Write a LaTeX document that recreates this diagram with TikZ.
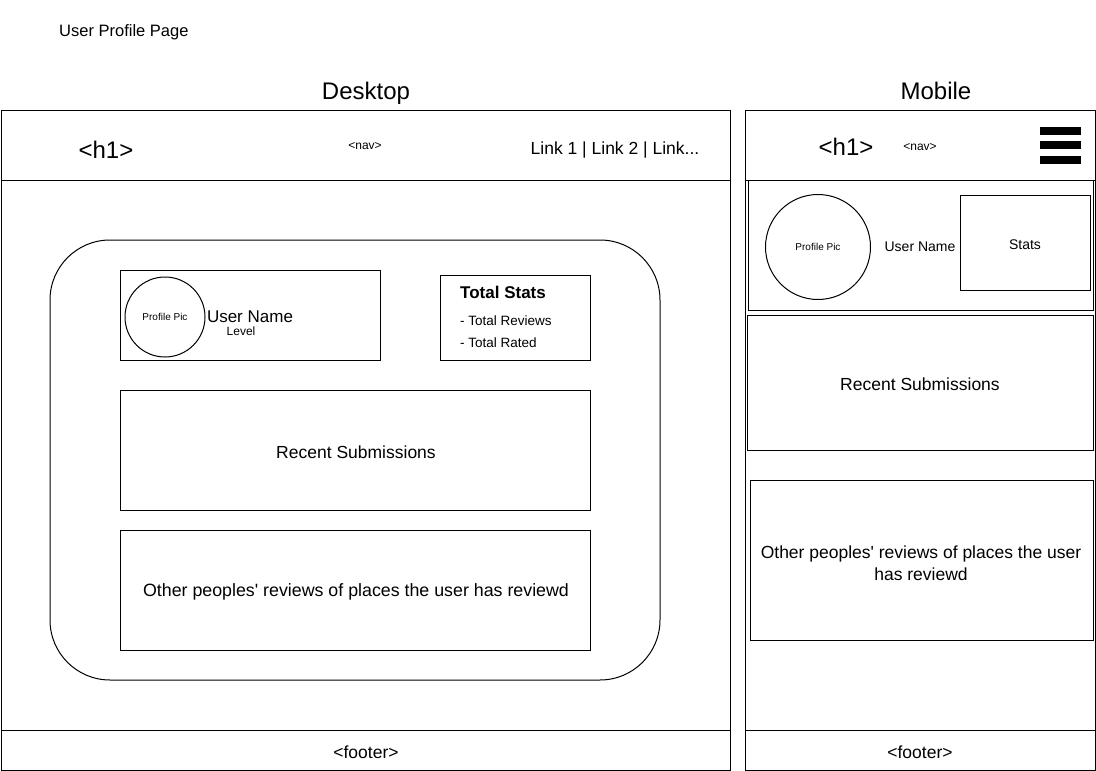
\documentclass[tikz,border=0pt]{standalone}
\usepackage{fontspec}
\setmainfont{Liberation Sans}
\usetikzlibrary{positioning}

\begin{document}
\begin{tikzpicture}[
  x=1pt, y=-1pt,
  frame/.style={draw, line width=1pt},
  box/.style={draw, line width=1pt, inner sep=0pt, outer sep=0pt, align=center},
  pic/.style={draw, circle, line width=1pt, inner sep=0pt},
  huge/.style={font=\fontsize{24}{28}\selectfont},
  big/.style={font=\fontsize{17.5}{22}\selectfont},
  mid/.style={font=\fontsize{14}{17}\selectfont},
  small/.style={font=\fontsize{12}{14}\selectfont},
  tiny/.style={font=\fontsize{10}{12}\selectfont}
]

\useasboundingbox (0,0) rectangle (1096,771);

% --- Titles ---
\node[anchor=west, inner sep=0pt, font=\fontsize{16.5}{19}\selectfont] (title) at (59,32) {User Profile Page};
\node[huge] (desk) at (366,93) {Desktop};
\node[huge] (mob) at (936,91) {Mobile};

% --- Desktop frame: header, body, footer ---
\draw[frame] (1,110) rectangle (730,770);
\draw[frame] (1,180) -- (730,180);
\draw[frame] (1,730) -- (730,730);

\node[huge] (dh1) at (106,150) {<h1>};
\node[small] (dnav) at (365,146) {<nav>};
\node[big] (dlinks) at (615,150) {Link 1 | Link 2 | Link...};
\node[big] (dfoot) at (366,752) {<footer>};

% Content card
\draw[frame, rounded corners=60] (50,240) rectangle (660,680);

% Profile row
\node[box, minimum width=260, minimum height=90] (dprofile) at (250,315) {};
\node[pic, minimum size=80, tiny] (dpic) at (165,317) {Profile Pic};
\node[font=\fontsize{17}{20}\selectfont] (duser) at (250,317) {User Name};
\node[small] (dlevel) at (241,331) {Level};

% Stats
\node[box, minimum width=150, minimum height=85] (dstats) at (515,317.5) {};
\node[anchor=west, inner sep=0pt, font=\fontsize{17}{20}\selectfont\bfseries] (dstatt) at (460,292) {Total Stats};
\node[anchor=west, inner sep=0pt, font=\fontsize{13.5}{16}\selectfont] (drev) at (460,321) {- Total Reviews};
\node[anchor=west, inner sep=0pt, font=\fontsize{13.5}{16}\selectfont] (drat) at (460,343) {- Total Rated};

% Lists
\node[box, minimum width=470, minimum height=120] (drecent) at (355,450) {};
\node[big] (drecentt) at (356,452) {Recent Submissions};
\node[box, minimum width=470, minimum height=120] (dother) at (355,590) {};
\node[font=\fontsize{17.8}{22}\selectfont] (dothert) at (356,592)
  {Other peoples\textquotesingle\ reviews of places the user has reviewd};

% --- Mobile frame: header, body, footer ---
\draw[frame] (745,110) rectangle (1095,770);
\draw[frame] (745,180) -- (1095,180);
\draw[frame] (745,730) -- (1095,730);

\node[huge] (mh1) at (846,147) {<h1>};
\node[small] (mnav) at (920,147) {<nav>};
\foreach \y in {127,141,156}
  \fill (1040,\y) rectangle ++(41,8);
\node[big] (mfoot) at (920,752) {<footer>};

% Profile block
\node[box, minimum width=345, minimum height=130] (mprofile) at (920.5,245) {};
\node[pic, minimum size=105, tiny] (mpic) at (818,247) {Profile Pic};
\node[mid] (muser) at (920,247) {User Name};
\node[box, minimum width=130, minimum height=95] (mstats) at (1025,242.5) {};
\node[mid] (mstatt) at (1025,245) {Stats};

% Lists
\node[box, minimum width=346, minimum height=135] (mrecent) at (920,382.5) {};
\node[big] (mrecentt) at (920,384) {Recent Submissions};
\node[box, minimum width=343, minimum height=160] (mother) at (921.5,560) {};
\node[big, align=center] (mothert) at (921,563)
  {Other peoples\textquotesingle\ reviews of places the user\\has reviewd};

\end{tikzpicture}
\end{document}
